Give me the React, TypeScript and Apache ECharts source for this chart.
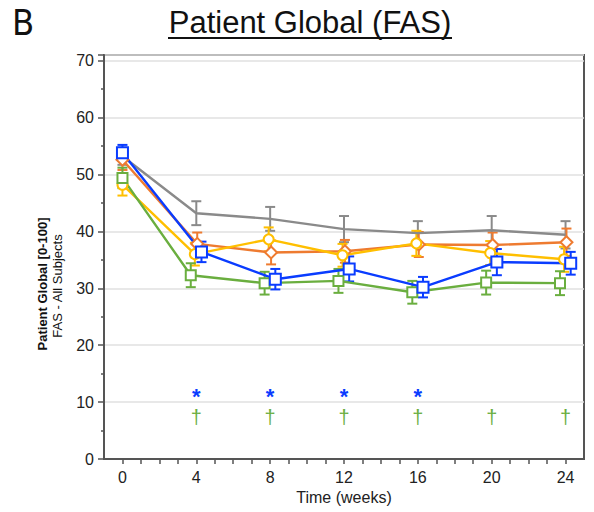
import React, { useEffect, useRef } from 'react';
import * as echarts from 'echarts';

const weeks = [0, 4, 8, 12, 16, 20, 24];
const xTickLabels = ['0', '4', '8', '12', '16', '20', '24'];
const yTickLabels = ['0', '10', '20', '30', '40', '50', '60', '70'];

const grayMean = [53.2, 43.2, 42.2, 40.4, 39.7, 40.2, 39.4];
const grayErr = [1.5, 2.1, 2.1, 2.3, 2.1, 2.5, 2.4];
const orangeMean = [52.6, 37.8, 36.3, 36.5, 37.7, 37.6, 38.1];
const orangeErr = [1.8, 2.0, 2.1, 2.0, 2.2, 2.2, 2.4];
const yellowMean = [48.2, 36.0, 38.6, 35.8, 37.9, 36.2, 35.1];
const yellowErr = [1.9, 2.0, 2.1, 2.0, 2.2, 2.1, 2.2];
const greenMean = [49.4, 32.3, 30.9, 31.3, 29.3, 31.0, 30.9];
const greenErr = [1.8, 2.1, 2.0, 2.1, 2.0, 2.1, 2.1];
const blueMean = [53.8, 36.4, 31.6, 33.4, 30.2, 34.6, 34.4];
const blueErr = [1.4, 1.8, 1.8, 2.2, 1.8, 2.3, 2.0];

const asteriskWeeks = [4, 8, 12, 16];
const asteriskLevel = 12.1;
const daggerWeeks = [4, 8, 12, 16, 20, 24];
const daggerLevel = 7.3;

const FONT = '"Liberation Sans", Arial, Helvetica, sans-serif';

type SeriesDef = {
  name: string;
  mean: number[];
  err: number[];
  color: string;
  symbol: string;
  symbolSize: number;
  dodge: number;
};

const seriesDefs: SeriesDef[] = [
  { name: 'gray', mean: grayMean, err: grayErr, color: '#8a8a8a', symbol: 'none', symbolSize: 0, dodge: 0 },
  { name: 'orange', mean: orangeMean, err: orangeErr, color: '#ee7b30', symbol: 'diamond', symbolSize: 12, dodge: 0.05 },
  { name: 'yellow', mean: yellowMean, err: yellowErr, color: '#ffbf00', symbol: 'circle', symbolSize: 10, dodge: -0.08 },
  { name: 'green', mean: greenMean, err: greenErr, color: '#6aae3f', symbol: 'rect', symbolSize: 10, dodge: -0.3 },
  { name: 'blue', mean: blueMean, err: blueErr, color: '#0a3cff', symbol: 'rect', symbolSize: 11, dodge: 0.28 },
];

function xPos(w: number, dodge: number) {
  return w > 0 ? w + dodge : w;
}

export default function App() {
  const ref = useRef<HTMLDivElement>(null);
  useEffect(() => {
    if (!ref.current) return;
    const chart = echarts.init(ref.current, undefined, { renderer: 'svg' });

    const series: any[] = [];
    seriesDefs.forEach((s) => {
      series.push({
        type: 'custom',
        name: s.name + '-err',
        z: 2,
        renderItem: (params: any, api: any) => {
          const x = api.value(0);
          const lo = api.value(1);
          const hi = api.value(2);
          const top = api.coord([x, hi]);
          const bot = api.coord([x, lo]);
          const hw = 5;
          const style = { stroke: s.color, lineWidth: 2 };
          return {
            type: 'group',
            children: [
              { type: 'line', shape: { x1: top[0], y1: top[1], x2: bot[0], y2: bot[1] }, style },
              { type: 'line', shape: { x1: top[0] - hw, y1: top[1], x2: top[0] + hw, y2: top[1] }, style },
              { type: 'line', shape: { x1: bot[0] - hw, y1: bot[1], x2: bot[0] + hw, y2: bot[1] }, style },
            ],
          };
        },
        data: weeks.map((w, i) => [xPos(w, s.dodge), s.mean[i] - s.err[i], s.mean[i] + s.err[i]]),
      });
      series.push({
        type: 'line',
        name: s.name,
        z: 3,
        data: weeks.map((w, i) => [xPos(w, s.dodge), s.mean[i]]),
        symbol: s.symbol,
        symbolSize: s.symbolSize,
        showSymbol: s.symbol !== 'none',
        lineStyle: { color: s.color, width: 2.4 },
        itemStyle: { color: '#ffffff', borderColor: s.color, borderWidth: 2 },
      });
    });

    series.push({
      type: 'custom',
      name: 'asterisks',
      z: 4,
      renderItem: (params: any, api: any) => {
        const p = api.coord([api.value(0), api.value(1)]);
        return {
          type: 'text',
          x: p[0],
          y: p[1] + 6,
          style: {
            text: '*',
            fill: '#0a3cff',
            fontSize: 22,
            fontWeight: 'bold',
            fontFamily: FONT,
            align: 'center',
            verticalAlign: 'middle',
          },
        };
      },
      data: asteriskWeeks.map((w) => [w, asteriskLevel]),
    });
    series.push({
      type: 'custom',
      name: 'daggers',
      z: 4,
      renderItem: (params: any, api: any) => {
        const p = api.coord([api.value(0), api.value(1)]);
        return {
          type: 'text',
          x: p[0],
          y: p[1],
          style: {
            text: '\u2020',
            fill: '#6aae3f',
            fontSize: 20,
            fontFamily: FONT,
            align: 'center',
            verticalAlign: 'middle',
          },
        };
      },
      data: daggerWeeks.map((w) => [w, daggerLevel]),
    });

    const option: any = {
      animation: false,
      backgroundColor: '#ffffff',
      grid: {
        left: 104,
        right: 10,
        top: 55,
        bottom: 53,
        show: true,
        borderColor: '#555555',
        borderWidth: 2,
        backgroundColor: 'transparent',
      },
      xAxis: {
        type: 'value',
        min: -1,
        max: 25,
        interval: 1,
        name: 'Time (weeks)',
        nameLocation: 'middle',
        nameGap: 27,
        nameTextStyle: { fontSize: 16, color: '#222', fontFamily: FONT },
        axisLine: { show: true, onZero: false, lineStyle: { color: '#555555', width: 2 } },
        axisTick: { show: true, length: 5, lineStyle: { color: '#555555', width: 1.5 } },
        axisLabel: {
          fontSize: 16,
          color: '#222',
          fontFamily: FONT,
          margin: 10,
          showMinLabel: false,
          showMaxLabel: false,
          formatter: (v: number) => {
            const idx = weeks.indexOf(v);
            return idx >= 0 ? xTickLabels[idx] : '';
          },
        },
        splitLine: { show: false },
      },
      yAxis: {
        type: 'value',
        min: 0,
        max: 71,
        interval: 10,
        axisLine: { show: true, onZero: false, lineStyle: { color: '#555555', width: 2 } },
        axisTick: { show: true, length: 6, lineStyle: { color: '#555555', width: 1.5 } },
        minorTick: { show: true, splitNumber: 2, length: 3, lineStyle: { color: '#555555', width: 1.5 } },
        axisLabel: {
          fontSize: 16,
          color: '#222',
          fontFamily: FONT,
          margin: 10,
          showMaxLabel: false,
          formatter: (v: number) => {
            const idx = Math.round(v / 10);
            return v % 10 === 0 && idx < yTickLabels.length ? yTickLabels[idx] : '';
          },
        },
        splitLine: { show: true, lineStyle: { color: '#e0e0e0', width: 1.5 } },
      },
      graphic: [
        {
          type: 'text',
          left: 12,
          top: 4,
          style: {
            text: 'B',
            fontSize: 36,
            fontFamily: '"Liberation Sans Narrow", "DejaVu Sans Condensed", ' + FONT,
            fill: '#111',
          },
        },
        {
          type: 'text',
          x: 310,
          y: 22,
          style: {
            text: 'Patient Global (FAS)',
            fontSize: 31,
            fontFamily: FONT,
            fill: '#111',
            align: 'center',
            verticalAlign: 'middle',
          },
        },
        {
          type: 'line',
          shape: { x1: 168, y1: 38, x2: 452, y2: 38 },
          style: { stroke: '#111', lineWidth: 2 },
        },
        {
          type: 'text',
          x: 42,
          y: 284,
          rotation: Math.PI / 2,
          style: {
            text: 'Patient Global [0-100]',
            fontSize: 13,
            fontWeight: 'bold',
            fontFamily: FONT,
            fill: '#111',
            align: 'center',
            verticalAlign: 'middle',
          },
        },
        {
          type: 'text',
          x: 57,
          y: 286,
          rotation: Math.PI / 2,
          style: {
            text: 'FAS - All Subjects',
            fontSize: 13,
            fontFamily: FONT,
            fill: '#111',
            align: 'center',
            verticalAlign: 'middle',
          },
        },
      ],
      series,
    };
    chart.setOption(option);
    return () => chart.dispose();
  }, []);
  return (
    <div
      ref={ref}
      style={{ position: 'fixed', left: 0, top: 0, width: 594, height: 512, background: '#fff' }}
    />
  );
}
